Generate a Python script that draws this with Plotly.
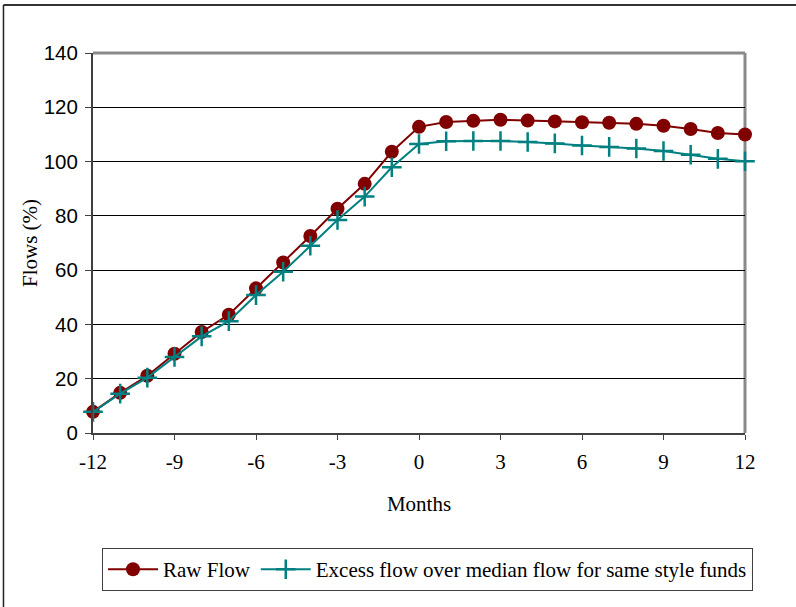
import plotly.graph_objects as go

# Months relative to the event
months = list(range(-12, 13))

# Cumulative flows (%)
raw_flow = [7.8, 14.8, 21.1, 29.2, 37.2, 43.6, 53.3, 62.8, 72.6, 82.6, 91.8,
            103.6, 112.8, 114.6, 115.0, 115.4, 115.1, 114.8, 114.5, 114.3,
            113.9, 113.2, 112.0, 110.5, 110.0]
excess_flow = [7.8, 14.5, 20.4, 28.0, 35.6, 41.2, 50.8, 59.4, 69.0, 78.5, 87.1,
               97.9, 106.5, 107.5, 107.6, 107.6, 107.2, 106.7, 105.9, 105.4,
               104.8, 103.9, 102.5, 101.0, 100.1]

x_ticks = [-12, -9, -6, -3, 0, 3, 6, 9, 12]
y_ticks = [0, 20, 40, 60, 80, 100, 120, 140]

serif = "Liberation Serif, Times New Roman, serif"
sans = "Liberation Sans, Arial, sans-serif"

fig = go.Figure()
fig.add_trace(go.Scatter(
    x=months, y=raw_flow, name="Raw Flow", mode="lines+markers",
    line=dict(color="#800000", width=2),
    marker=dict(symbol="circle", size=14, color="#800000"),
    cliponaxis=False,
))
fig.add_trace(go.Scatter(
    x=months, y=excess_flow,
    name="Excess flow over median flow for same style funds",
    mode="lines+markers",
    line=dict(color="#008080", width=2),
    marker=dict(symbol="cross-thin", size=14,
                line=dict(color="#008080", width=2.5)),
    cliponaxis=False,
))

# Plot frame: gray on top and right, outer chart border on top and left
shapes = [
    dict(type="line", xref="paper", yref="paper", x0=0, x1=1, y0=1, y1=1,
         line=dict(color="#8a8a8a", width=3), layer="below"),
    dict(type="line", xref="paper", yref="paper", x0=1, x1=1, y0=0, y1=1,
         line=dict(color="#8a8a8a", width=3), layer="below"),
    dict(type="line", xref="paper", yref="paper", x0=-0.1373, x1=1.2,
         y0=1.1263, y1=1.1263, line=dict(color="#333333", width=2)),
    dict(type="line", xref="paper", yref="paper", x0=-0.1373, x1=-0.1373,
         y0=-0.6, y1=1.1263, line=dict(color="#222222", width=1.5)),
]

fig.update_layout(
    width=796, height=607,
    margin=dict(l=93, r=51, t=53, b=174),
    paper_bgcolor="white", plot_bgcolor="white",
    showlegend=True,
    legend=dict(
        orientation="h", x=0.0138, y=-0.303, xanchor="left", yanchor="top",
        font=dict(family=serif, size=21, color="black"),
        bordercolor="#404040", borderwidth=1, bgcolor="white",
        itemwidth=50, tracegroupgap=0,
    ),
    xaxis=dict(
        range=[-12, 12], tickvals=x_ticks, ticktext=[str(v) for v in x_ticks],
        showgrid=False, zeroline=False,
        showline=True, linecolor="#404040", linewidth=2,
        ticks="outside", ticklen=5, tickwidth=1, tickcolor="#404040",
        ticklabelstandoff=4,
        tickfont=dict(family=serif, size=21, color="black"),
        title=dict(text="Months", font=dict(family=serif, size=21, color="black"),
                   standoff=23),
    ),
    yaxis=dict(
        range=[0, 140], tickvals=y_ticks,
        showgrid=True, gridcolor="black", gridwidth=1, zeroline=False,
        showline=True, linecolor="#404040", linewidth=2,
        ticks="outside", ticklen=6, tickwidth=1, tickcolor="#404040",
        ticklabelstandoff=3,
        tickfont=dict(family=sans, size=20.5, color="black"),
        title=dict(text="Flows (%)", font=dict(family=serif, size=21, color="black"),
                   standoff=0),
    ),
    shapes=shapes,
)

fig.write_html("out.html")
